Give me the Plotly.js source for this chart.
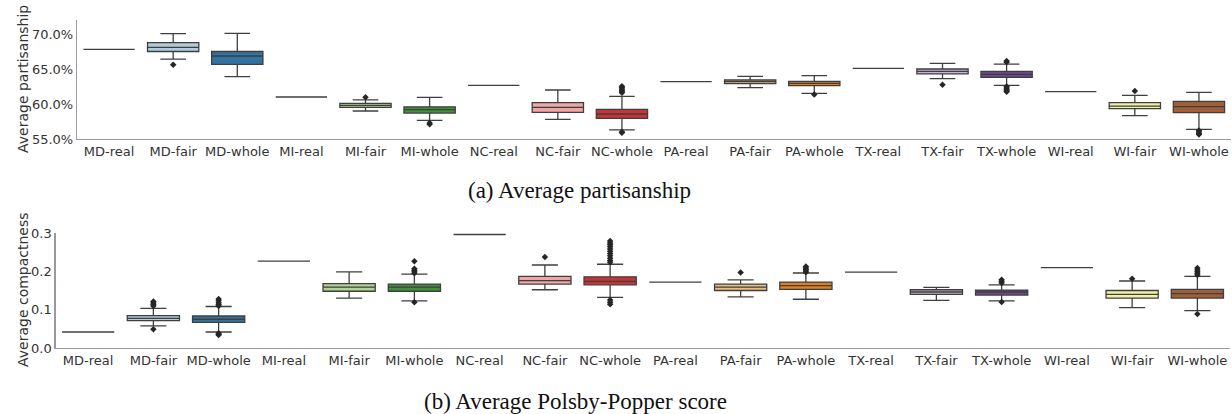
<!DOCTYPE html>
<html><head><meta charset="utf-8">
<script src="https://cdn.plot.ly/plotly-3.0.1.min.js"></script>
<style>html,body{margin:0;padding:0;background:#fff}#chart{width:1232px;height:414px}</style>
</head><body><div id="chart"></div>
<script>
const categories = ['MD-real','MD-fair','MD-whole','MI-real','MI-fair','MI-whole','NC-real','NC-fair','NC-whole','PA-real','PA-fair','PA-whole','TX-real','TX-fair','TX-whole','WI-real','WI-fair','WI-whole'];

// (a) Average partisanship, in percent
const partLower  = [67.8, 66.4, 63.9, 61.0, 59.0, 57.67, 62.67, 57.81, 56.29, 63.19, 62.33, 61.52, 65.1, 63.62, 62.67, 61.76, 58.33, 56.38];
const partQ1     = [67.8, 67.5, 65.67, 61.0, 59.53, 58.71, 62.67, 58.81, 57.95, 63.19, 62.9, 62.62, 65.1, 64.29, 63.81, 61.76, 59.33, 58.76];
const partMedian = [67.8, 68.1, 66.86, 61.0, 59.81, 59.19, 62.67, 59.53, 58.57, 63.19, 63.19, 62.95, 65.1, 64.67, 64.24, 61.76, 59.71, 59.62];
const partQ3     = [67.8, 68.76, 67.5, 61.0, 60.1, 59.6, 62.67, 60.19, 59.24, 63.19, 63.43, 63.24, 65.1, 65.0, 64.67, 61.76, 60.19, 60.38];
const partUpper  = [67.8, 70.04, 70.1, 61.0, 60.6, 60.96, 62.67, 62.0, 61.1, 63.19, 63.96, 64.05, 65.1, 65.81, 65.71, 61.76, 61.24, 61.67];
const partOutliers = [[], [65.6], [], [], [60.96], [57.3, 57.1], [], [],
  [62.55, 62.35, 62.15, 61.95, 61.75, 61.6, 56.0, 55.9], [], [], [61.35], [], [62.76],
  [66.15, 65.95, 62.5, 62.3, 62.1, 61.9, 61.75], [], [61.86], [56.2, 56.0, 55.8, 55.65]];

// (b) Average Polsby-Popper score
const ppLower  = [0.042, 0.058, 0.042, 0.228, 0.131, 0.124, 0.298, 0.153, 0.133, 0.173, 0.134, 0.128, 0.199, 0.125, 0.124, 0.211, 0.106, 0.098];
const ppQ1     = [0.042, 0.072, 0.0675, 0.228, 0.149, 0.149, 0.298, 0.168, 0.166, 0.173, 0.151, 0.154, 0.199, 0.141, 0.139, 0.211, 0.131, 0.131];
const ppMedian = [0.042, 0.078, 0.0755, 0.228, 0.16, 0.16, 0.298, 0.177, 0.175, 0.173, 0.16, 0.164, 0.199, 0.147, 0.147, 0.211, 0.141, 0.143];
const ppQ3     = [0.042, 0.085, 0.084, 0.228, 0.169, 0.168, 0.298, 0.188, 0.187, 0.173, 0.168, 0.173, 0.199, 0.153, 0.152, 0.211, 0.151, 0.154];
const ppUpper  = [0.042, 0.104, 0.109, 0.228, 0.2, 0.194, 0.298, 0.218, 0.22, 0.173, 0.179, 0.197, 0.199, 0.159, 0.166, 0.211, 0.176, 0.188];
const ppOutliers = [[], [0.122, 0.118, 0.114, 0.11, 0.049], [0.129, 0.124, 0.119, 0.114, 0.11, 0.039, 0.036, 0.034],
  [], [], [0.228, 0.208, 0.204, 0.2, 0.196, 0.12], [], [0.239],
  [0.281, 0.276, 0.271, 0.266, 0.26, 0.254, 0.248, 0.242, 0.236, 0.23, 0.225, 0.126, 0.12, 0.115],
  [], [0.198], [0.214, 0.21, 0.206, 0.202, 0.199], [], [], [0.179, 0.175, 0.171, 0.121], [],
  [0.182], [0.21, 0.205, 0.2, 0.196, 0.192, 0.089]];

const partTicks = [55, 60, 65, 70];
const partTickLabels = ['55.0%', '60.0%', '65.0%', '70.0%'];
const ppTicks = [0.0, 0.1, 0.2, 0.3];
const ppTickLabels = ['0.0', '0.1', '0.2', '0.3'];

// styling
const paired = [null,'#a6cee3','#1f78b4',null,'#b2df8a','#33a02c',null,'#fb9a99','#e31a1c',null,'#fdbf6f','#ff7f00',null,'#cab2d6','#6a3d9a',null,'#ffff99','#b15928'];
function desat(hex, p){
  let r=parseInt(hex.slice(1,3),16)/255, g=parseInt(hex.slice(3,5),16)/255, b=parseInt(hex.slice(5,7),16)/255;
  const mx=Math.max(r,g,b), mn=Math.min(r,g,b), l=(mx+mn)/2; let h=0,s=0; const d=mx-mn;
  if(d>0){ s = l>0.5 ? d/(2-mx-mn) : d/(mx+mn);
    if(mx===r) h=((g-b)/d)%6; else if(mx===g) h=(b-r)/d+2; else h=(r-g)/d+4; h/=6; if(h<0)h+=1; }
  s*=p;
  function hue(p1,q1,t){ if(t<0)t+=1; if(t>1)t-=1; if(t<1/6)return p1+(q1-p1)*6*t; if(t<1/2)return q1; if(t<2/3)return p1+(q1-p1)*(2/3-t)*6; return p1; }
  const q = l<0.5 ? l*(1+s) : l+s-l*s, pp = 2*l-q;
  const to=v=>Math.round(v*255);
  return 'rgb('+to(hue(pp,q,h+1/3))+','+to(hue(pp,q,h))+','+to(hue(pp,q,h-1/3))+')';
}
const edge = '#3f3f3f';
const traces = [];
function addPanel(lo, q1, md, q3, hi, outl, xa, ya){
  categories.forEach((c,i)=>{
    traces.push({type:'box', x:[c], lowerfence:[lo[i]], q1:[q1[i]], median:[md[i]], q3:[q3[i]], upperfence:[hi[i]],
      boxpoints:false, width:0.8, whiskerwidth:0.5,
      fillcolor: paired[i] ? desat(paired[i],0.75) : 'rgba(0,0,0,0)',
      line:{color:edge, width:1.3}, xaxis:xa, yaxis:ya, showlegend:false, hoverinfo:'skip'});
  });
  const ox=[], oy=[];
  outl.forEach((arr,i)=>arr.forEach(v=>{ox.push(categories[i]); oy.push(v);}));
  traces.push({type:'scatter', mode:'markers', x:ox, y:oy, xaxis:xa, yaxis:ya, showlegend:false, hoverinfo:'skip',
    marker:{symbol:'diamond', size:5, color:'#262626', line:{width:0}}});
}
addPanel(partLower, partQ1, partMedian, partQ3, partUpper, partOutliers, 'x', 'y');
addPanel(ppLower, ppQ1, ppMedian, ppQ3, ppUpper, ppOutliers, 'x2', 'y2');

const tickFont = {family:'DejaVu Sans', size:13, color:'#333'};
const titleFont = {family:'DejaVu Sans', size:14, color:'#333'};
const capFont = {family:'Liberation Serif', size:23, color:'#111'};
const xBase = {type:'category', categoryorder:'array', categoryarray:categories, range:[-0.5,17.5],
  showgrid:false, zeroline:false, showline:true, linecolor:'#9a9a9a', linewidth:1.2, ticks:'', tickfont:tickFont, fixedrange:true};
const yBase = {showgrid:false, zeroline:false, showline:true, linecolor:'#9a9a9a', linewidth:1.2, ticks:'', tickfont:tickFont, fixedrange:true};

const layout = {
  width:1232, height:414, margin:{l:0,r:0,t:0,b:0}, paper_bgcolor:'#fff', plot_bgcolor:'#fff',
  xaxis: Object.assign({}, xBase, {domain:[77/1232, 1231/1232], anchor:'y'}),
  yaxis: Object.assign({}, yBase, {domain:[1-139/414, 1-20/414], anchor:'x', range:[55,72], tickmode:'array',
    tickvals:partTicks, ticktext:partTickLabels}),
  xaxis2: Object.assign({}, xBase, {domain:[55.5/1232, 1230/1232], anchor:'y2'}),
  yaxis2: Object.assign({}, yBase, {domain:[1-348/414, 1-233/414], anchor:'x2', range:[0,0.302], tickmode:'array',
    tickvals:ppTicks, ticktext:ppTickLabels}),
  annotations:[
    {text:'Average partisanship', xref:'paper', yref:'paper', x:23/1232, y:1-79/414, xanchor:'center', yanchor:'middle',
     textangle:-90, showarrow:false, font:titleFont},
    {text:'Average compactness', xref:'paper', yref:'paper', x:23/1232, y:1-290/414, xanchor:'center', yanchor:'middle',
     textangle:-90, showarrow:false, font:titleFont},
    {text:'(a) Average partisanship', xref:'paper', yref:'paper', x:579/1232, y:1-190/414, xanchor:'center', yanchor:'middle',
     showarrow:false, font:capFont},
    {text:'(b) Average Polsby-Popper score', xref:'paper', yref:'paper', x:575/1232, y:1-401/414, xanchor:'center', yanchor:'middle',
     showarrow:false, font:capFont}
  ]
};
Plotly.newPlot('chart', traces, layout, {staticPlot:true, displayModeBar:false});
</script></body></html>
